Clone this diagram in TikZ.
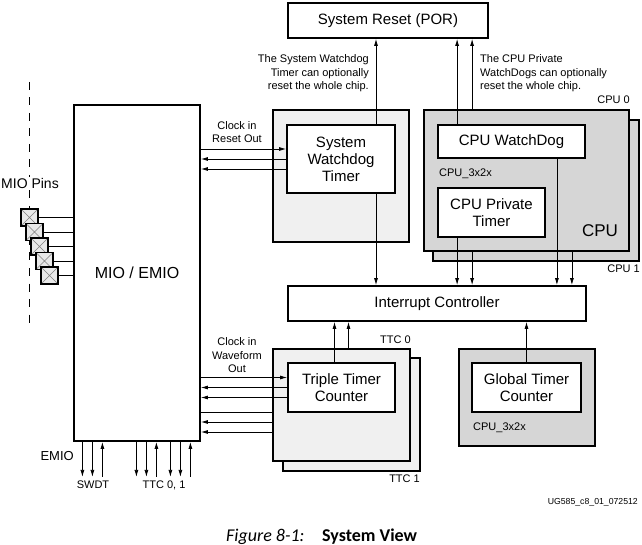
\documentclass[tikz,border=0pt]{standalone}
\usepackage{fontspec}
\setmainfont{Liberation Sans}
\newfontfamily\capfont{Carlito}
\usetikzlibrary{arrows.meta,positioning}
\definecolor{blocklight}{HTML}{F0F0F0}
\definecolor{blockdark}{HTML}{D6D6D6}
\definecolor{pinfill}{HTML}{E8E8E8}

\begin{document}
\begin{tikzpicture}[x=1pt,y=-1pt,
    blk/.style={draw,line width=1.8pt,fill=white,inner sep=0pt,align=center,font=\fontsize{15}{17}\selectfont},
    note/.style={inner sep=0pt,font=\fontsize{11}{13.5}\selectfont},
    pin/.style={draw,line width=1.5pt,fill=pinfill,minimum size=17pt,inner sep=0pt,
      path picture={\draw[gray,line width=.5pt] (path picture bounding box.north west) -- (path picture bounding box.south east)
        (path picture bounding box.north east) -- (path picture bounding box.south west);}}]
  \useasboundingbox (0,0) rectangle (642,545);
  % blocks
  \node[blk,minimum width=200pt,minimum height=35pt] (por) at (388,20.5) {System Reset (POR)};
  \node[blk,fill=blocklight,minimum width=136pt,minimum height=132pt] (swdbg) at (341,176) {};
  \node[blk,minimum width=108pt,minimum height=68pt] (swd) at (341,159) {System\\Watchdog\\Timer};
  \node[blk,fill=blockdark,minimum width=206pt,minimum height=141pt] (cpu1) at (536,190.5) {};
  \node[blk,fill=blockdark,minimum width=205pt,minimum height=141pt] (cpu0) at (526.5,180.5) {};
  \node[blk,minimum width=147pt,minimum height=33pt] (cpuwd) at (511.5,141.5) {CPU WatchDog};
  \node[blk,minimum width=107pt,minimum height=49pt] (cpupt) at (491.5,212.5) {CPU Private\\Timer};
  \node[blk,minimum width=298pt,minimum height=35pt] (intc) at (437,303.5) {Interrupt Controller};
  \node[blk,fill=blocklight,minimum width=137pt,minimum height=113pt] (ttc1) at (351.5,414.5) {};
  \node[blk,fill=blocklight,minimum width=137pt,minimum height=112pt] (ttc0) at (341.5,405) {};
  \node[blk,minimum width=107pt,minimum height=49pt] (ttc) at (341.5,387.5) {Triple Timer\\Counter};
  \node[blk,fill=blockdark,minimum width=136pt,minimum height=97pt] (gtcbg) at (527,397.5) {};
  \node[blk,minimum width=109pt,minimum height=49pt] (gtc) at (526.5,387.5) {Global Timer\\Counter};
  \node[blk,minimum width=126pt,minimum height=336pt,font=\fontsize{16}{18}\selectfont] (mio) at (137,273) {MIO / EMIO};
  % pins
  \draw[dashed,dash pattern=on 8pt off 7.5pt,line width=.8pt] (29.5,82) -- (29.5,328);
  \node[note,fill=white,inner sep=1pt,font=\fontsize{14}{16}\selectfont] (miopins) at (30,183) {MIO Pins};
  \foreach \i in {0,...,4} {
    \node[pin] (pin\i) at (29.5+5*\i,217.5+14.5*\i) {};
    \draw[line width=.8pt] (pin\i.east) -- (pin\i.east -| mio.west);
  }
  % labels
  \node[note,align=center] (clkswd) at (237,132) {Clock in\\Reset Out};
  \node[note,align=center] (clkttc) at (237,355.5) {Clock in\\Waveform\\Out};
  \node[note,align=right,anchor=east] (swdnote) at (369,73.5) {The System Watchdog\\Timer can optionally\\reset the whole chip.};
  \node[note,align=left,anchor=west] (cpunote) at (480,73.5) {The CPU Private\\WatchDogs can optionally\\reset the whole chip.};
  \node[note,anchor=east] (cpu0lbl) at (630,100) {CPU 0};
  \node[note,anchor=east] (cpu1lbl) at (640,269) {CPU 1};
  \node[note,anchor=west] (cpuclk) at (439,174) {CPU\_3x2x};
  \node[note,anchor=west] (gtcclk) at (473,428) {CPU\_3x2x};
  \node[note,font=\fontsize{17}{19}\selectfont] (cpulbl) at (600,231) {CPU};
  \node[note,anchor=east] (ttc0lbl) at (411,340) {TTC 0};
  \node[note,anchor=east] (ttc1lbl) at (420,479) {TTC 1};
  \node[note,anchor=east,font=\fontsize{13}{15}\selectfont] (emio) at (74,456) {EMIO};
  \node[note] (swdt) at (93,485) {SWDT};
  \node[note] (ttcio) at (164,485) {TTC 0, 1};
  \node[note,anchor=east,font=\fontsize{8.7}{10}\selectfont] (docid) at (638,502) {UG585\_c8\_01\_072512};
  \node[anchor=base west,inner sep=0pt,font=\capfont\fontsize{18}{20}\selectfont\itshape] (figno) at (226,541) {Figure 8-1:};
  \node[anchor=base west,inner sep=0pt,font=\capfont\fontsize{18}{20}\selectfont\bfseries] (figtitle) at (322,541) {System View};
  % connectors
  \scope[every path/.append style={draw,line width=.8pt,-{Latex[length=7pt,width=4pt]}}]
  \path ([yshift=10pt]swd.west -| mio.east) -- ([yshift=10pt]swd.west);
  \path ([yshift=10pt]ttc.west -| mio.east) -- ([yshift=10pt]ttc.west);
  \foreach \dy in {0,-10} {
    \path ([yshift=\dy pt]swd.west) -- ([yshift=\dy pt]swd.west -| mio.east);
    \path ([yshift=\dy pt]ttc.west) -- ([yshift=\dy pt]ttc.west -| mio.east);
  }
  \path[-] ([yshift=-7pt]ttc0.west) -- ([yshift=-7pt]ttc0.west -| mio.east);
  \foreach \dy in {-17,-27}
    \path ([yshift=\dy pt]ttc0.west) -- ([yshift=\dy pt]ttc0.west -| mio.east);
  % to system reset
  \path ([xshift=35pt]swd.north) -- ([xshift=35pt]swd.north |- por.south);
  \path ([xshift=20pt]cpuwd.north west) -- ([xshift=20pt]cpuwd.north west |- por.south);
  \path ([xshift=49pt]cpu0.north west) -- ([xshift=49pt]cpu0.north west |- por.south);
  % to interrupt controller
  \path ([xshift=35pt]swd.south) -- ([xshift=35pt]swd.south |- intc.north);
  \path ([xshift=20pt]cpupt.south west) -- ([xshift=20pt]cpupt.south west |- intc.north);
  \path ([xshift=49pt]cpu0.south west) -- ([xshift=49pt]cpu0.south west |- intc.north);
  \path ([xshift=-29pt]cpuwd.south east) -- ([xshift=-29pt]cpuwd.south east |- intc.north);
  \path ([xshift=-58pt]cpu0.south east) -- ([xshift=-58pt]cpu0.south east |- intc.north);
  \path ([xshift=-7pt]ttc.north) -- ([xshift=-7pt]ttc.north |- intc.south);
  \path ([xshift=7pt]ttc0.north) -- ([xshift=7pt]ttc0.north |- intc.south);
  \path (gtc.north) -- (gtc.north |- intc.south);
  % emio signals
  \foreach \x in {9.3,19.3,63.3,73.3,97.3,107.3}
    \path ([xshift=\x pt]mio.south west) -- ++(0,35);
  \foreach \x in {29.3,83.3,117.3}
    \path ([xshift=\x pt]mio.south west) ++(0,35) -- ([xshift=\x pt]mio.south west);
  \endscope
\end{tikzpicture}
\end{document}
